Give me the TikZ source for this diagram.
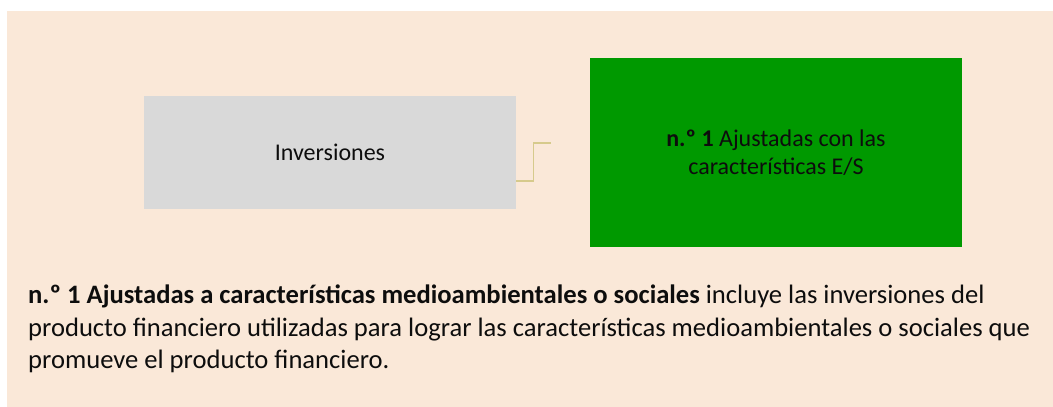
\documentclass[tikz,border=0pt]{standalone}
\usepackage{fontspec}
\setmainfont{Carlito}
\definecolor{bgc}{RGB}{250,232,216}
\definecolor{grayc}{RGB}{217,217,217}
\definecolor{greenc}{RGB}{0,153,0}
\definecolor{connc}{RGB}{214,202,140}
\definecolor{txt}{RGB}{13,13,13}
\tikzset{
  graybox/.style={fill=grayc, draw=none, inner sep=0pt, text=txt, font=\fontsize{24}{27.5}\selectfont},
  greenbox/.style={fill=greenc, draw=none, inner sep=0pt, text=txt, align=center, font=\fontsize{24}{27.5}\selectfont},
  conn/.style={draw=connc, line width=1.7pt},
  para/.style={inner sep=0pt, text=txt, align=left, font=\fontsize{26.6}{32.5}\selectfont}
}
\begin{document}
\begin{tikzpicture}[x=1pt,y=-1pt]
\useasboundingbox (0,0) rectangle (1053,407);
\fill[bgc] (7,11) rectangle (1053,407);
\node[graybox, minimum width=372pt, minimum height=113pt] (inv) at (330,152.5) {Inversiones};
\node[greenbox, minimum width=372pt, minimum height=189pt] (aj) at (776,152.5) {\textbf{n.º 1} Ajustadas con las\\características E/S};
\coordinate (e) at (551,143.3);
\draw[conn] ([yshift=-28.2pt]inv.east) -- ++(17.3,0) |- (e);
\node[para, anchor=north west] (txt) at (28,285) {\textbf{n.º 1 Ajustadas a características medioambientales o sociales} incluye las inversiones del\\producto financiero utilizadas para lograr las características medioambientales o sociales que\\promueve el producto financiero.};
\end{tikzpicture}
\end{document}
